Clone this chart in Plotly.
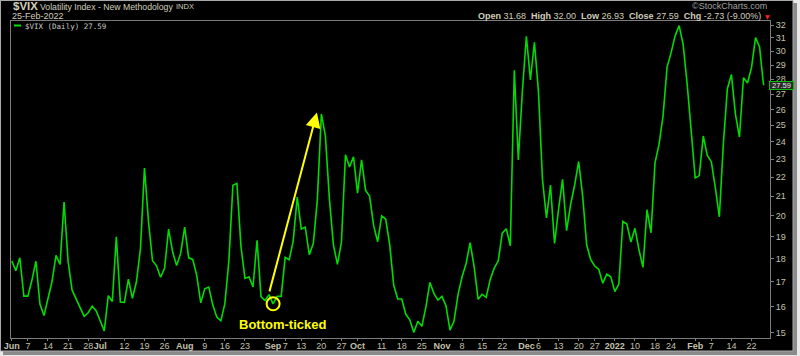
import math
import plotly.graph_objects as go

# ---------------- data (VIX daily closes) ----------------
jun_days = [1, 2, 3, 4, 7, 8, 9, 10, 11, 14, 15, 16, 17, 18, 21, 22, 23, 24, 25, 28, 29, 30]
jun_vix = [17.90, 17.48, 18.04, 16.42, 16.42, 17.07, 17.89, 16.10, 15.65, 16.39, 17.02, 18.15,
           17.75, 20.70, 17.89, 16.66, 16.32, 15.97, 15.62, 15.76, 16.02, 15.83]
jul_days = [1, 2, 6, 7, 8, 9, 12, 13, 14, 15, 16, 19, 20, 21, 22, 23, 26, 27, 28, 29, 30]
jul_vix = [15.48, 15.07, 16.44, 16.20, 19.00, 16.18, 16.17, 17.12, 16.33, 17.01, 18.45, 22.50,
           19.73, 17.91, 17.69, 17.20, 17.58, 19.36, 18.31, 17.70, 18.24]
aug_days = [2, 3, 4, 5, 6, 9, 10, 11, 12, 13, 16, 17, 18, 19, 20, 23, 24, 25, 26, 27, 30, 31]
aug_vix = [19.46, 18.04, 17.97, 17.28, 16.15, 16.72, 16.79, 16.06, 15.59, 15.45, 16.12, 17.91,
           21.57, 21.67, 18.56, 17.15, 17.22, 16.79, 18.84, 16.39, 16.24, 16.48]
sep_days = [1, 2, 3, 7, 8, 9, 10, 13, 14, 15, 16, 17, 20, 21, 22, 23, 24, 27, 28, 29, 30]
sep_vix = [16.11, 16.41, 16.41, 18.06, 17.96, 18.80, 20.95, 19.37, 19.46, 18.18, 18.69, 20.81,
           25.71, 24.36, 20.87, 18.63, 17.75, 18.76, 23.25, 22.56, 23.14]
oct_days = [1, 4, 5, 6, 7, 8, 11, 12, 13, 14, 15, 18, 19, 20, 21, 22, 25, 26, 27, 28, 29]
oct_vix = [21.15, 22.96, 21.30, 21.00, 19.54, 18.77, 20.00, 19.85, 18.64, 16.86, 16.30, 16.30,
           15.70, 15.49, 15.01, 15.43, 15.24, 15.98, 16.98, 16.53, 16.26]
nov_days = [1, 2, 3, 4, 5, 8, 9, 10, 11, 12, 15, 16, 17, 18, 19, 22, 23, 24, 26, 29, 30]
nov_vix = [16.41, 16.03, 15.10, 15.44, 16.48, 17.22, 17.78, 18.73, 17.66, 16.29, 16.49, 16.37,
           17.11, 17.59, 17.91, 19.17, 19.38, 18.58, 28.62, 22.96, 27.19]
dec_days = [1, 2, 3, 6, 7, 8, 9, 10, 13, 14, 15, 16, 17, 20, 21, 22, 23, 27, 28, 29, 30, 31]
dec_vix = [31.12, 27.95, 30.67, 27.18, 21.89, 19.90, 21.58, 18.69, 20.31, 21.89, 19.29, 20.57,
           21.57, 22.87, 21.01, 18.63, 17.96, 17.68, 17.54, 16.95, 17.33, 17.22]
jan_days = [3, 4, 5, 6, 7, 10, 11, 12, 13, 14, 18, 19, 20, 21, 24, 25, 26, 27, 28, 31]
jan_vix = [16.60, 16.91, 19.73, 19.61, 18.76, 19.40, 18.41, 17.62, 20.31, 19.19, 22.79, 23.85,
           25.59, 28.85, 29.90, 31.16, 31.96, 30.49, 27.66, 24.83]
feb_days = [1, 2, 3, 4, 7, 8, 9, 10, 11, 14, 15, 16, 17, 18, 22, 23, 24, 25]
feb_vix = [21.96, 22.09, 24.35, 23.22, 22.86, 21.44, 19.96, 23.91, 27.36, 28.33, 25.70, 24.29,
           28.11, 27.75, 28.81, 31.02, 30.32, 27.59]

months = [(2021, 6, jun_days, jun_vix), (2021, 7, jul_days, jul_vix), (2021, 8, aug_days, aug_vix),
          (2021, 9, sep_days, sep_vix), (2021, 10, oct_days, oct_vix), (2021, 11, nov_days, nov_vix),
          (2021, 12, dec_days, dec_vix), (2022, 1, jan_days, jan_vix), (2022, 2, feb_days, feb_vix)]

x_tick_dates = ["2021-06-01", "2021-06-07", "2021-06-14", "2021-06-21", "2021-06-28",
                "2021-07-01", "2021-07-12", "2021-07-19", "2021-07-26",
                "2021-08-02", "2021-08-09", "2021-08-16", "2021-08-23",
                "2021-09-01", "2021-09-07", "2021-09-13", "2021-09-20", "2021-09-27",
                "2021-10-01", "2021-10-11", "2021-10-18", "2021-10-25",
                "2021-11-01", "2021-11-08", "2021-11-15", "2021-11-22",
                "2021-12-01", "2021-12-06", "2021-12-13", "2021-12-20", "2021-12-27",
                "2022-01-03", "2022-01-10", "2022-01-18", "2022-01-24",
                "2022-02-01", "2022-02-07", "2022-02-14", "2022-02-22"]
x_tick_text = ["<b>Jun</b>", "7", "14", "21", "28",
               "<b>Jul</b>", "12", "19", "26",
               "<b>Aug</b>", "9", "16", "23",
               "<b>Sep</b>", "7", "13", "20", "27",
               "<b>Oct</b>", "11", "18", "25",
               "<b>Nov</b>", "8", "15", "22",
               "<b>Dec</b>", "6", "13", "20", "27",
               "<b>2022</b>", "10", "18", "24",
               "<b>Feb</b>", "7", "14", "22"]
y_ticks = [15, 16, 17, 18, 19, 20, 21, 22, 23, 24, 25, 26, 27, 28, 29, 30, 31, 32]

marked_date = "2021-09-01"

# ---------------- build ----------------
dates, values = [], []
for yr, mo, days, vals in months:
    dates += [f"{yr}-{mo:02d}-{d:02d}" for d in days]
    values += vals
last_val = values[-1]
marked_val = values[dates.index(marked_date)]

W_PX, H_PX = 800, 356
L, R, T, B = 11, 30, 21, 18
PW = W_PX - L - R
PH = H_PX - T - B


def px(x):
    return (x - L) / PW


def py(y):
    return (H_PX - B - y) / PH


FONT = "Liberation Sans, Arial, sans-serif"
TXT = "#d2cebb"
TXT2 = "#c4c0ae"
GREEN = "#00dc00"
YELLOW = "#ffff00"

fig = go.Figure()
fig.add_trace(go.Scatter(x=dates, y=values, mode="lines",
                         line=dict(color=GREEN, width=1.6), hoverinfo="skip", showlegend=False))
fig.add_trace(go.Scatter(x=[marked_date], y=[marked_val], mode="markers",
                         marker=dict(symbol="circle-open", size=13, color=YELLOW,
                                     line=dict(width=2, color=YELLOW)),
                         hoverinfo="skip", showlegend=False))

shapes = [
    dict(type="rect", xref="paper", yref="paper", x0=px(3), x1=px(797), y0=py(355), y1=py(3),
         fillcolor="#8a8a8a", line=dict(width=0), layer="below"),
    dict(type="rect", xref="paper", yref="paper", x0=px(0.5), x1=px(793), y0=py(351), y1=py(0.5),
         fillcolor="#000000", line=dict(color="#a8a8a8", width=1), layer="below"),
    dict(type="line", xref="paper", yref="paper", x0=px(14), x1=px(21), y0=py(25.5), y1=py(25.5),
         line=dict(color=GREEN, width=2)),
]

ohlc = ("<b>Open</b> 31.68  <b>High</b> 32.00  <b>Low</b> 26.93  "
        "<b>Close</b> 27.59  <b>Chg</b> -2.73 (-9.00%)")


def note(text, x, y, size, color=TXT, xanchor="left", family=FONT):
    return dict(text=text, x=px(x), y=py(y), xref="paper", yref="paper", xanchor=xanchor,
                yanchor="middle", showarrow=False, font=dict(family=family, size=size, color=color))


annotations = [
    note("<b>$VIX</b>", 11, 6, 11.5),
    note("Volatility Index - New Methodology", 38, 6.5, 8.7),
    note("INDX", 174, 6.5, 7.5),
    note("25-Feb-2022", 10, 15.5, 9),
    note("$VIX (Daily) 27.59", 23, 26, 7.5, color="#c8c8c8", family="DejaVu Sans Mono, monospace"),
    note("©StockCharts.com", 769, 5.5, 9, color="#a0a0a0", xanchor="right"),
    note(ohlc, 763, 15.5, 9, xanchor="right"),
    note("▼", 767, 16, 6, color="#ff2020", xanchor="center", family="DejaVu Sans"),
    note("<b>Bottom-ticked</b>", 282, 324, 13, color=YELLOW, xanchor="center"),
    dict(text=f"{last_val:.2f}", x=px(769), y=math.log10(last_val), xref="paper", yref="y",
         xanchor="left", yanchor="middle", showarrow=False, bgcolor="#2a2a2a",
         bordercolor="#00c000", borderwidth=1, borderpad=0, width=23, height=7,
         font=dict(family=FONT, size=7.5, color="#e6e6e6")),
    dict(text="", x=75.9, y=math.log10(25.8), ax=64.0, ay=math.log10(16.55),
         xref="x", yref="y", axref="x", ayref="y", showarrow=True, arrowhead=2,
         arrowsize=1.5, arrowwidth=2, arrowcolor=YELLOW, standoff=0),
]

fig.update_layout(
    width=W_PX, height=H_PX,
    margin=dict(l=L, r=R, t=T, b=B, pad=0, autoexpand=False),
    paper_bgcolor="#e8e8e8",
    plot_bgcolor="#000000",
    showlegend=False,
    shapes=shapes,
    annotations=annotations,
    xaxis=dict(type="category", range=[-0.2, len(dates) + 0.6], tickvals=x_tick_dates,
               ticktext=x_tick_text, tickangle=0, ticks="outside", ticklen=2, tickcolor="#808080",
               ticklabelstandoff=-3,
               tickfont=dict(family=FONT, size=9, color=TXT2), showline=True, linecolor="#7c7c7c",
               linewidth=1, mirror=True, showgrid=False, zeroline=False, fixedrange=True,
               automargin=False),
    yaxis=dict(type="log", side="right", range=[math.log10(14.81), math.log10(32.32)],
               tickvals=y_ticks, ticktext=[str(v) for v in y_ticks], ticks="outside", ticklen=3,
               tickcolor="#808080", tickfont=dict(family=FONT, size=9, color=TXT2),
               showline=True, linecolor="#7c7c7c", linewidth=1, mirror=True, showgrid=False,
               zeroline=False, fixedrange=True, automargin=False),
)

fig.write_html("out.html", config={"displayModeBar": False},
               post_script="document.body.style.margin='0px';document.body.style.overflow='hidden';")
